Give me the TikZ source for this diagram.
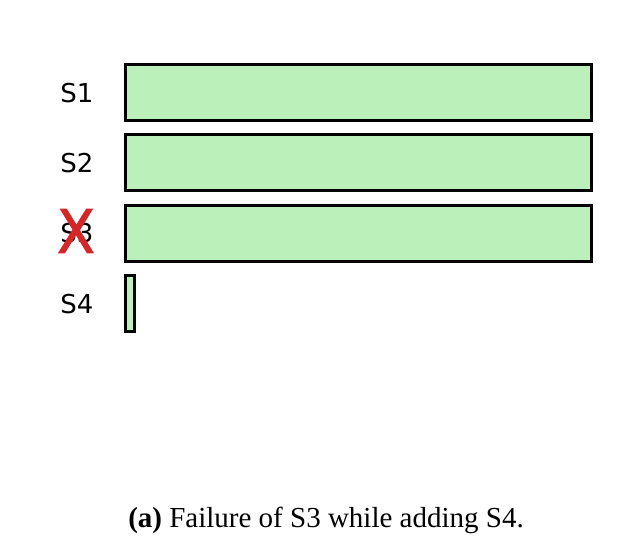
\documentclass[tikz,border=0pt]{standalone}
\usepackage{fontspec}
\setmainfont{Liberation Serif}
\newfontfamily\dejavu{DejaVu Sans}
\newfontfamily\dejavux[FakeBold=1.8]{DejaVu Sans}
\definecolor{barfill}{HTML}{BBF0BB}
\definecolor{xred}{HTML}{D62728}
\tikzset{
  bar/.style={draw=black, line width=3pt, fill=barfill},
  lab/.style={font=\dejavu\fontsize{26}{30}\selectfont, anchor=center, inner sep=0pt},
}
\begin{document}
\begin{tikzpicture}[x=1pt,y=-1pt]
\useasboundingbox (0,0) rectangle (628,547);
\fill[white] (0,0) rectangle (628,547);
\draw[bar] (125,64) rectangle (591,120);
\draw[bar] (125,134) rectangle (591,190);
\draw[bar] (125,205) rectangle (591,261);
\draw[bar] (125,275) rectangle (134,331);
\node[lab] (s1) at (77,93) {S1};
\node[lab] (s2) at (77,163) {S2};
\node[lab] (s3) at (77,233) {S3};
\node[lab] (s4) at (77,304) {S4};
\node[font=\dejavux\fontsize{60}{60}\selectfont, text=xred, inner sep=0pt, xscale=0.92] (x) at (76,231) {X};
\node[font=\fontsize{29}{34}\selectfont, inner sep=0pt, anchor=base] (cap) at (326,527) {\textbf{(a)} Failure of S3 while adding S4.};
\end{tikzpicture}
\end{document}
